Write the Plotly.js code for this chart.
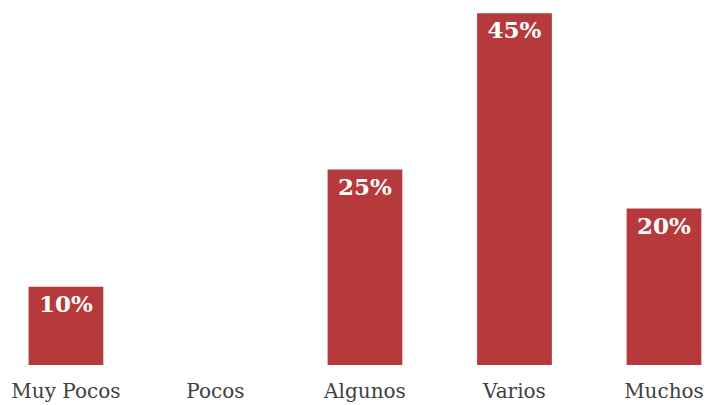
<!DOCTYPE html>
<html>
<head>
<meta charset="utf-8">
<script src="https://cdn.plot.ly/plotly-3.0.1.min.js"></script>
<style>html,body{margin:0;padding:0;background:#fff}#chart{width:709px;height:405px}</style>
</head>
<body>
<div id="chart"></div>
<script>
const categories = ["Muy Pocos", "Pocos", "Algunos", "Varios", "Muchos"];
const values = [10, 0, 25, 45, 20];
const labels = values.map(v => v ? v + "%" : "");

Plotly.newPlot("chart", [{
  type: "bar",
  x: categories,
  y: values,
  text: labels,
  textposition: "inside",
  insidetextanchor: "end",
  constraintext: "none",
  textfont: {family: "DejaVu Serif", size: 23, color: "#ffffff", weight: "bold"},
  marker: {color: "#b63a3c", line: {width: 0}},
  width: 0.5,
  hoverinfo: "none"
}], {
  width: 709, height: 405,
  margin: {l: 0, r: 0, t: 0, b: 40},
  paper_bgcolor: "#ffffff", plot_bgcolor: "#ffffff",
  showlegend: false,
  xaxis: {type: "category", range: [-0.441, 4.301], showgrid: false, zeroline: false, showline: false, ticks: "",
          ticklabelstandoff: 12,
          tickfont: {family: "DejaVu Serif", size: 20, color: "#404040"}},
  yaxis: {range: [0, 46.68], visible: false, showgrid: false, zeroline: false}
}, {staticPlot: true});
</script>
</body>
</html>
